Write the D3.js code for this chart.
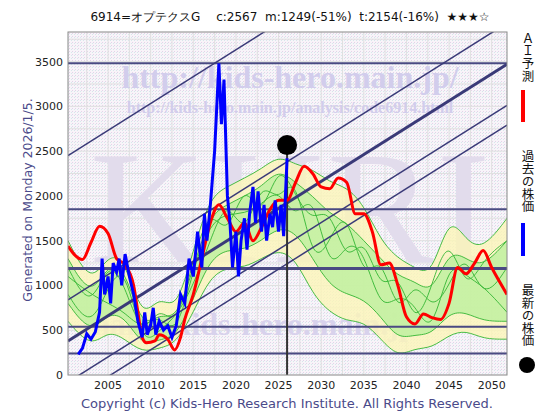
<!DOCTYPE html>
<html><head><meta charset="utf-8">
<script src="https://d3js.org/d3.v7.min.js"></script>
<style>
  body { margin: 0; background: #fff; }
  .vtext { writing-mode: vertical-rl; text-orientation: upright; }
</style></head>
<body>
<svg id="chart" width="560" height="420" font-family="DejaVu Sans, sans-serif"></svg>
<script>
// ---- data ----
var title = "6914=オプテクスG　 c:2567  m:1249(-51%)  t:2154(-16%)  ★★★☆";
var xTicks = [2005, 2010, 2015, 2020, 2025, 2030, 2035, 2040, 2045, 2050];
var yTicks = [0, 500, 1000, 1500, 2000, 2500, 3000, 3500];
var levels = [3480, 1850, 1190, 540, 240];
var trendSlope = 60;
var trendStart = [2450, 840, 380, -80, -300];
var latest = {year: 2026, value: 2567};

var aiYears = [2000.3,2001,2002,2003,2004,2005,2006,2007,2008,2008.5,2009,2009.5,2010.5,2011,2012,2012.8,2013.5,2014,2015,2016,2017,2018,2019,2020,2021,2022,2023,2024,2025,2026,2027,2028,2029,2030,2031,2032,2033,2034,2035,2036,2037,2038,2039,2040,2041,2042,2043,2044,2045,2046,2047,2048,2049,2050,2051.8];
var aiValues = [1440,1350,1290,1480,1660,1580,1300,1230,1000,700,420,360,380,450,400,280,420,620,900,1300,1700,1900,1750,1600,1700,1500,1650,1850,1950,1950,2150,2330,2250,2100,2080,2200,2150,1800,1800,1600,1230,1250,1000,650,570,680,640,620,800,1200,1130,1250,1390,1200,900];

var pastYears = [2001.5,2002,2002.5,2003,2003.5,2004,2004.3,2004.6,2005,2005.3,2005.6,2006,2006.3,2006.6,2007,2007.5,2008,2008.5,2009,2009.3,2009.6,2010,2010.3,2010.6,2011,2011.5,2012,2012.5,2013,2013.5,2014,2014.5,2015,2015.5,2016,2016.3,2016.6,2017,2017.5,2018,2018.3,2018.6,2019,2019.3,2019.6,2020,2020.3,2020.6,2021,2021.3,2021.6,2022,2022.3,2022.6,2023,2023.3,2023.6,2024,2024.3,2024.6,2025,2025.3,2025.6,2026];
var pastValues = [230,300,460,400,480,700,1300,900,1100,800,1250,1150,1300,1000,1350,1100,900,600,420,700,450,560,750,450,600,500,550,420,550,900,800,1300,1100,1600,1200,1800,1500,1900,2500,3480,2800,3300,2000,1700,1200,1600,1100,1500,1750,1400,1800,2100,1700,2050,1600,1900,1500,1800,1650,1950,1600,1900,1550,2420];

var bandYears = [2000.3,2003,2005,2007,2009,2011,2013,2015,2017,2019,2021,2023,2025,2027,2029,2031,2033,2035,2037,2039,2041,2043,2045,2047,2049,2051.8];
var bandUpper = [1500,1000,1350,1300,600,900,700,1400,2000,2100,2200,2300,2450,2350,2300,2150,2100,1900,1500,1300,1200,1100,1800,1500,1400,1750];
var bandInnerHi = [1300,850,1250,1200,500,700,600,1200,1800,1900,2000,2100,2300,2150,2000,1800,1700,1500,1300,1100,1050,900,1400,1300,1200,1500];
var bandInnerLo = [800,450,700,650,320,400,420,850,1300,1400,1400,1500,1650,1600,1300,1000,900,850,650,400,450,450,700,700,600,600];
var bandLower = [600,300,500,400,250,300,350,700,1100,1200,1200,1300,1400,1300,900,700,600,600,400,200,300,300,450,500,400,400];
var greenA = [1200,700,1300,1000,400,800,500,1300,1900,1500,2200,1700,2400,2000,1700,1900,1200,1600,900,1200,500,1000,1600,900,1300,1500];
var greenB = [900,500,1000,1250,300,500,650,1000,1500,2000,1500,2200,1900,2300,1200,1500,1900,1000,1400,600,1100,700,1000,1400,800,1200];
var greenC = [1100,900,800,700,500,700,400,1200,1700,1800,1800,1900,2100,1700,2100,1100,1500,1400,700,900,800,400,1300,1100,1000,700];

// ---- layout ----
var svg = d3.select("#chart");
var L = 68, R = 507, T = 32, B = 375;
var x = d3.scaleLinear().domain([2000.3, 2051.8]).range([L, R]);
var y = d3.scaleLinear().domain([0, 3830]).range([B, T]);
var serif = "Liberation Serif, DejaVu Serif, serif";

svg.append("defs").append("clipPath").attr("id", "clip")
  .append("rect").attr("x", L).attr("y", T).attr("width", R - L).attr("height", B - T);
var pat = svg.select("defs").append("pattern").attr("id", "dots")
  .attr("width", 3).attr("height", 3).attr("patternUnits", "userSpaceOnUse");
pat.append("rect").attr("width", 3).attr("height", 3).attr("fill", "#f8f4f9");
pat.append("rect").attr("width", 1).attr("height", 1).attr("fill", "#e2d4e8");
pat.append("rect").attr("x", 2).attr("y", 1).attr("width", 1).attr("height", 1).attr("fill", "#d6e8ec");

svg.append("rect").attr("x", L).attr("y", T).attr("width", R - L).attr("height", B - T)
  .attr("fill", "url(#dots)");

var g = svg.append("g").attr("clip-path", "url(#clip)");

// grid
g.selectAll(".vg").data(d3.range(2002.5, 2052, 2.5)).enter().append("line")
  .attr("x1", d => x(d)).attr("x2", d => x(d)).attr("y1", T).attr("y2", B)
  .attr("stroke", "#e0e0e0").attr("stroke-width", 1);
g.selectAll(".hg").data(d3.range(250, 3830, 250)).enter().append("line")
  .attr("x1", L).attr("x2", R).attr("y1", d => y(d)).attr("y2", d => y(d))
  .attr("stroke", "#e0e0e0").attr("stroke-width", 1);

// watermarks
g.append("text").attr("x", 290).attr("y", 262).attr("text-anchor", "middle")
  .attr("font-family", serif).attr("font-size", 160).attr("textLength", 400)
  .attr("fill", "#e2dcec").text("KHRI");
g.append("text").attr("x", 290).attr("y", 88).attr("text-anchor", "middle")
  .attr("font-family", serif).attr("font-weight", "bold").attr("font-size", 32)
  .attr("fill", "#d2cdec").text("http://kids-hero.main.jp/");
g.append("text").attr("x", 290).attr("y", 113).attr("text-anchor", "middle")
  .attr("font-family", serif).attr("font-weight", "bold").attr("font-size", 16)
  .attr("fill", "#d2cdec").text("http://kids-hero.main.jp/analysis/code6914.html");
g.append("text").attr("x", 250).attr("y", 335).attr("text-anchor", "middle")
  .attr("font-family", serif).attr("font-weight", "bold").attr("font-size", 32)
  .attr("fill", "#d8d2ec").text("mail@kids-hero.main.jp");

// bands
var area = (lo, hi) => d3.area().curve(d3.curveBasis)
  .x((d, i) => x(bandYears[i])).y0((d, i) => y(lo[i])).y1((d, i) => y(hi[i]));
g.append("path").datum(bandUpper).attr("d", area(bandLower, bandUpper))
  .attr("fill", "#fbf5b8").attr("opacity", 0.8);
g.append("path").datum(bandUpper).attr("d", area(bandInnerLo, bandInnerHi))
  .attr("fill", "#bff0a0").attr("opacity", 0.85);
var gl = d3.line().curve(d3.curveBasis).x((d, i) => x(bandYears[i])).y(d => y(d));
[bandUpper, bandLower, bandInnerHi, bandInnerLo, greenA, greenB, greenC].forEach(s => {
  g.append("path").datum(s).attr("d", gl).attr("fill", "none")
    .attr("stroke", "#33b533").attr("stroke-width", 0.9);
});

// level lines
g.selectAll(".lv").data(levels).enter().append("line")
  .attr("x1", L).attr("x2", R).attr("y1", d => y(d)).attr("y2", d => y(d))
  .attr("stroke", "#4a4a82").attr("stroke-width", (d, i) => i === 2 ? 3 : 2);

// trend lines
g.selectAll(".tr").data(trendStart).enter().append("line")
  .attr("x1", x(2000.3)).attr("y1", d => y(d))
  .attr("x2", x(2051.8)).attr("y2", d => y(d + trendSlope * 51.5))
  .attr("stroke", "#3a3a78").attr("stroke-width", (d, i) => i === 2 ? 3 : 1.5);

// current year line
g.append("line").attr("x1", x(latest.year)).attr("x2", x(latest.year))
  .attr("y1", y(latest.value)).attr("y2", B).attr("stroke", "#333").attr("stroke-width", 2);

// AI forecast
g.append("path").datum(aiValues)
  .attr("d", d3.line().curve(d3.curveMonotoneX).x((d, i) => x(aiYears[i])).y(d => y(d)))
  .attr("fill", "none").attr("stroke", "#ff0000").attr("stroke-width", 3);

// past price
g.append("path").datum(pastValues)
  .attr("d", d3.line().x((d, i) => x(pastYears[i])).y(d => y(d)))
  .attr("fill", "none").attr("stroke", "#0000ff").attr("stroke-width", 3);

// latest dot
svg.append("circle").attr("cx", x(latest.year)).attr("cy", y(latest.value))
  .attr("r", 10).attr("fill", "#000");

svg.append("rect").attr("x", L).attr("y", T).attr("width", R - L).attr("height", B - T)
  .attr("fill", "none").attr("stroke", "#888");

// axes
svg.selectAll(".xt").data(xTicks).enter().append("text")
  .attr("x", d => x(d)).attr("y", B + 14).attr("text-anchor", "middle")
  .attr("font-size", 11).attr("fill", "#222").text(d => d);
svg.selectAll(".yt").data(yTicks).enter().append("text")
  .attr("x", L - 5).attr("y", d => y(d) + 4).attr("text-anchor", "end")
  .attr("font-size", 11).attr("fill", "#222").text(d => d);

// texts
svg.append("text").attr("x", 290).attr("y", 21).attr("text-anchor", "middle")
  .attr("font-size", 12).attr("fill", "#111").attr("xml:space", "preserve").text(title);
svg.append("text").attr("transform", "translate(32,200) rotate(-90)").attr("text-anchor", "middle")
  .attr("font-size", 12.5).attr("fill", "#4a4a8a").text("Generated on Monday 2026/1/5.");
svg.append("text").attr("x", 287).attr("y", 408).attr("text-anchor", "middle")
  .attr("font-size", 13).attr("fill", "#4a4a8a").text("Copyright (c) Kids-Hero Research Institute. All Rights Reserved.");

// legend: vertical text
var vt = (y0, s) => svg.append("text").attr("class", "vtext").attr("x", 528).attr("y", y0)
  .attr("font-family", "Noto Sans CJK JP").attr("font-size", 12.5).attr("fill", "#111").text(s);
vt(32, "ＡＩ予測");
svg.append("rect").attr("x", 521).attr("y", 90).attr("width", 4).attr("height", 32).attr("fill", "#ff0000");
vt(150, "過去の株価");
svg.append("rect").attr("x", 521).attr("y", 223).attr("width", 4).attr("height", 33).attr("fill", "#0000ff");
vt(284, "最新の株価");
svg.append("circle").attr("cx", 527).attr("cy", 365).attr("r", 8).attr("fill", "#000");
</script>
</body></html>
